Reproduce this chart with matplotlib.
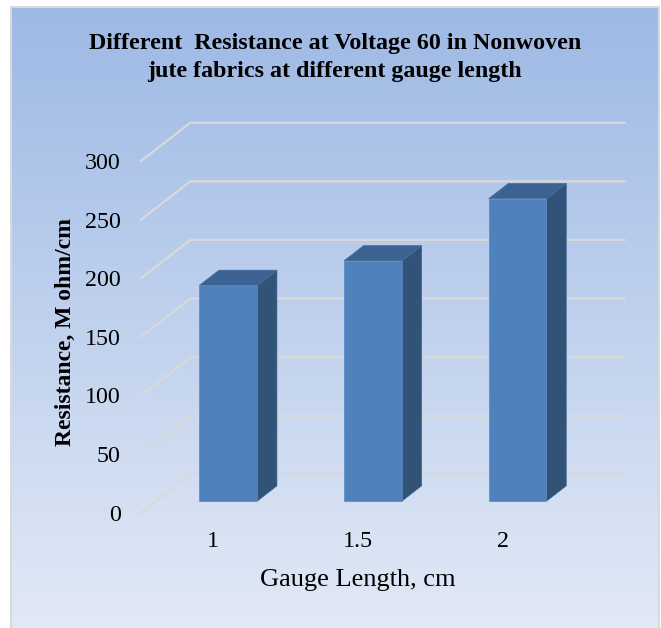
import numpy as np
import matplotlib
matplotlib.use('Agg')
import matplotlib.pyplot as plt
from matplotlib.patches import Polygon

W, H = 661, 628

categories = ['1', '1.5', '2']
resistance = [184, 205, 258]
y_ticks = [0, 50, 100, 150, 200, 250, 300]

title_lines = ['Different  Resistance at Voltage 60 in Nonwoven', 'jute fabrics at different gauge length']
x_label = 'Gauge Length, cm'
y_label = 'Resistance, M ohm/cm'

plt.rcParams['font.family'] = ['Liberation Serif', 'DejaVu Serif']

fig = plt.figure(figsize=(W / 100, H / 100), dpi=100)
fig.patch.set_facecolor('white')

# background gradient, top to bottom
bg = fig.add_axes([0, 0, 1, 1])
left_px, right_px, top_px, bot_px = 11, 659, 7, 628
top_col = np.array(matplotlib.colors.to_rgb('#9db9e5'))
bot_col = np.array(matplotlib.colors.to_rgb('#e2e9f6'))
t = np.linspace(0, 1, 256)[:, None, None]
grad = top_col[None, None, :] * (1 - t) + bot_col[None, None, :] * t
bg.imshow(grad, aspect='auto', extent=[left_px, right_px, bot_px, top_px])
bg.plot([left_px, left_px, right_px, right_px], [bot_px, top_px, top_px, bot_px], color='#d9d9d9', lw=1.5)
bg.set_xlim(0, W)
bg.set_ylim(H, 0)
bg.axis('off')

# axes is the front plane of the 3d box
ax_left, ax_right, ax_top, ax_bot = 141, 575, 161, 512.7
ax = fig.add_axes([ax_left / W, 1 - ax_bot / H, (ax_right - ax_left) / W, (ax_bot - ax_top) / H])
ax.patch.set_alpha(0)
ax.set_xlim(-0.5, 2.5)
ax.set_ylim(0, 300)
for s in ax.spines.values():
    s.set_visible(False)

depth_x = 0.342
depth_y = 32.7

for v in y_ticks:
    ax.plot([-0.5, -0.5 + depth_x, 2.5 + depth_x], [v, v + depth_y, v + depth_y],
            color='#d9d9d9', lw=1.6, clip_on=False, zorder=1, solid_joinstyle='miter')

# bars sit 30% into the depth and take 40% of it
bar_w = 0.4
d0 = 0.3
d1 = 0.7
for i, val in enumerate(resistance):
    x0 = i + d0 * depth_x - bar_w / 2
    x1 = x0 + bar_w
    y0 = d0 * depth_y
    y1 = y0 + val
    dx = (d1 - d0) * depth_x
    dy = (d1 - d0) * depth_y
    ax.add_patch(Polygon([(x1, y0), (x1 + dx, y0 + dy), (x1 + dx, y1 + dy), (x1, y1)],
                         facecolor='#325378', edgecolor='#3f628c', lw=0.5, clip_on=False, zorder=3))
    ax.add_patch(Polygon([(x0, y1), (x0 + dx, y1 + dy), (x1 + dx, y1 + dy), (x1, y1)],
                         facecolor='#3c6291', edgecolor='#47709f', lw=0.5, clip_on=False, zorder=3))
    ax.add_patch(Polygon([(x0, y0), (x1, y0), (x1, y1), (x0, y1)],
                         facecolor='#4f81bd', edgecolor='#5c88c0', lw=0.5, clip_on=False, zorder=4))

ax.set_xticks(range(len(categories)))
ax.set_xticklabels(categories)
ax.set_yticks(y_ticks)
ax.tick_params(length=0, labelsize=17.3, labelcolor='black')
ax.tick_params(axis='y', pad=14.5)
ax.tick_params(axis='x', pad=13)

fig.text(335.5 / W, 1 - 49 / H, title_lines[0], ha='center', va='baseline', fontsize=17.3, fontweight='bold')
fig.text(335 / W, 1 - 77 / H, title_lines[1], ha='center', va='baseline', fontsize=17.3, fontweight='bold')
fig.text(357.5 / W, 1 - 585.7 / H, x_label, ha='center', va='baseline', fontsize=19)
fig.text(65 / W, 1 - 332.5 / H, y_label, ha='center', va='center', rotation=90, fontsize=17, fontweight='bold')

fig.savefig('out.png', dpi=100, facecolor=fig.get_facecolor())
